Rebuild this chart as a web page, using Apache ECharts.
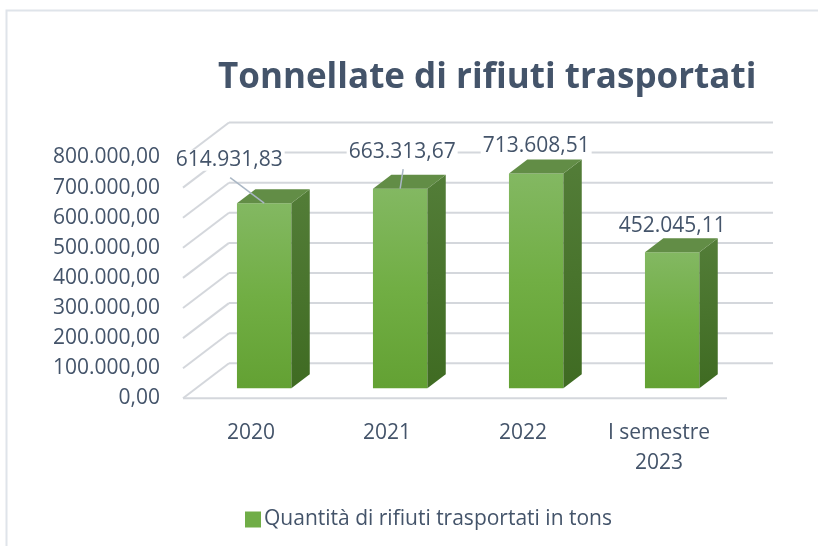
<!DOCTYPE html>
<html>
<head>
<meta charset="utf-8">
<script src="https://cdn.jsdelivr.net/npm/echarts@6/dist/echarts.min.js"></script>
<style>
  html, body { margin: 0; padding: 0; background: #ffffff; }
  #chart { width: 818px; height: 546px; }
</style>
</head>
<body>
<div id="chart"></div>
<script>
// Tonnes of waste transported per period
const categories = ['2020', '2021', '2022', 'I semestre\n2023'];
const values = [614931.83, 663313.67, 713608.51, 452045.11];
const yTicks = [0, 100000, 200000, 300000, 400000, 500000, 600000, 700000, 800000];
const seriesName = 'Quantità di rifiuti trasportati in tons';
const titleText = 'Tonnellate di rifiuti trasportati';

// Data label placement: label centre relative to the top-front centre of each column
const labelOffsets = [[-35, -43], [2, -37], [0, -27], [0, -26]];
const leaderLines = [true, true, false, false];

// Oblique 3D projection: full depth of the plot box and where the columns sit in it
const DEPTH_X = 46, DEPTH_Y = 35;
const BAR_FRONT = 0.286, BAR_DEPTH = 0.4, BAR_WIDTH = 0.4;

const TEXT = '#44546A';
const FONT = '"Open Sans", sans-serif';
const GRID_COLOR = '#d4d7dc';

// Italian number format: 614.931,83
function fmtIt(v) {
  const parts = v.toFixed(2).split('.');
  parts[0] = parts[0].replace(/\B(?=(\d{3})+(?!\d))/g, '.');
  return parts[0] + ',' + parts[1];
}

const frontGrad = () => new echarts.graphic.LinearGradient(0, 0, 0, 1, [
  { offset: 0, color: '#83b862' }, { offset: 0.5, color: '#71ae44' }, { offset: 1, color: '#63a133' }
]);
const sideGrad = () => new echarts.graphic.LinearGradient(0, 0, 0, 1, [
  { offset: 0, color: '#537d38' }, { offset: 1, color: '#3f6b22' }
]);

const chart = echarts.init(document.getElementById('chart'), null, { renderer: 'canvas' });

chart.setOption({
  animation: false,
  backgroundColor: '#ffffff',
  title: {
    text: titleText,
    left: 218, top: 55, padding: 0,
    textStyle: { fontFamily: FONT, fontWeight: 'bold', fontSize: 35, color: TEXT, lineHeight: 46 }
  },
  legend: {
    data: [seriesName],
    left: 240, top: 504,
    icon: 'rect', itemWidth: 16, itemHeight: 16, itemGap: 4,
    textStyle: { fontFamily: FONT, fontSize: 21, color: TEXT, padding: [0, 0, 0, -2] }
  },
  graphic: [{
    type: 'rect', silent: true, z: -10,
    shape: { x: 6.5, y: 10.5, width: 900, height: 700 },
    style: { fill: 'none', stroke: '#dfe4ea', lineWidth: 2 }
  }],
  grid: { left: 183, top: 157.5, width: 544, height: 240.8, containLabel: false, outerBoundsMode: 'none' },
  xAxis: {
    type: 'category',
    data: categories,
    axisLine: { show: false },
    axisTick: { show: false },
    axisLabel: { margin: 20, fontFamily: FONT, fontSize: 21, color: TEXT, lineHeight: 30 }
  },
  yAxis: {
    type: 'value',
    min: 0, max: 800000, interval: 100000,
    axisLine: { show: false },
    axisTick: { show: false },
    splitLine: { show: false },
    axisLabel: {
      margin: 23, fontFamily: FONT, fontSize: 21, color: TEXT, formatter: fmtIt,
      padding: [4, 0, 0, 0]
    }
  },
  series: [
    {
      // side-wall and back-wall gridlines plus the floor's front edge
      type: 'custom',
      silent: true,
      z: 1,
      data: yTicks.map(v => [0, v]),
      renderItem: function (params, api) {
        const cs = params.coordSys;
        const v = api.value(1);
        const y = api.coord([0, v])[1];
        const style = { stroke: GRID_COLOR, lineWidth: 2 };
        const children = [
          { type: 'line', shape: { x1: cs.x, y1: y, x2: cs.x + DEPTH_X, y2: y - DEPTH_Y }, style },
          { type: 'line', shape: { x1: cs.x + DEPTH_X, y1: y - DEPTH_Y, x2: cs.x + cs.width + DEPTH_X, y2: y - DEPTH_Y }, style }
        ];
        if (v === 0) {
          children.push({ type: 'line', shape: { x1: cs.x, y1: y, x2: cs.x + cs.width, y2: y }, style });
        }
        return { type: 'group', children };
      }
    },
    {
      name: seriesName,
      type: 'custom',
      silent: true,
      z: 2,
      itemStyle: { color: '#70ad47' },
      data: values.map((v, i) => [i, v]),
      renderItem: function (params, api) {
        const i = api.value(0);
        const v = api.value(1);
        const base = api.coord([i, 0]);
        const top = api.coord([i, v]);
        const band = api.size([1, 0])[0];
        const w = band * BAR_WIDTH;
        const fdx = DEPTH_X * BAR_FRONT, fdy = DEPTH_Y * BAR_FRONT;
        const ddx = DEPTH_X * BAR_DEPTH, ddy = DEPTH_Y * BAR_DEPTH;
        const cx = base[0] + fdx;
        const x0 = cx - w / 2, x1 = cx + w / 2;
        const yb = base[1] - fdy, yt = top[1] - fdy;
        const off = labelOffsets[i];
        const lx = cx + off[0], ly = yt + off[1];
        const children = [
          { type: 'rect', shape: { x: x0, y: yt, width: w, height: yb - yt }, style: { fill: frontGrad() } },
          { type: 'polygon', shape: { points: [[x1, yb], [x1, yt], [x1 + ddx, yt - ddy], [x1 + ddx, yb - ddy]] }, style: { fill: sideGrad() } },
          { type: 'polygon', shape: { points: [[x0, yt], [x1, yt], [x1 + ddx, yt - ddy], [x0 + ddx, yt - ddy]] }, style: { fill: '#628d46' } }
        ];
        if (leaderLines[i]) {
          children.push({ type: 'line', shape: { x1: lx + 1, y1: ly + 17.5, x2: cx, y2: yt }, style: { stroke: '#a9b6c4', lineWidth: 1.5 } });
        }
        children.push({
          type: 'text', z2: 10,
          style: {
            x: lx, y: ly, text: fmtIt(v), align: 'center', verticalAlign: 'middle',
            fontFamily: FONT, fontSize: 21, fill: TEXT,
            backgroundColor: '#ffffff', padding: [0, 2]
          }
        });
        return { type: 'group', children };
      }
    }
  ]
});
</script>
</body>
</html>
